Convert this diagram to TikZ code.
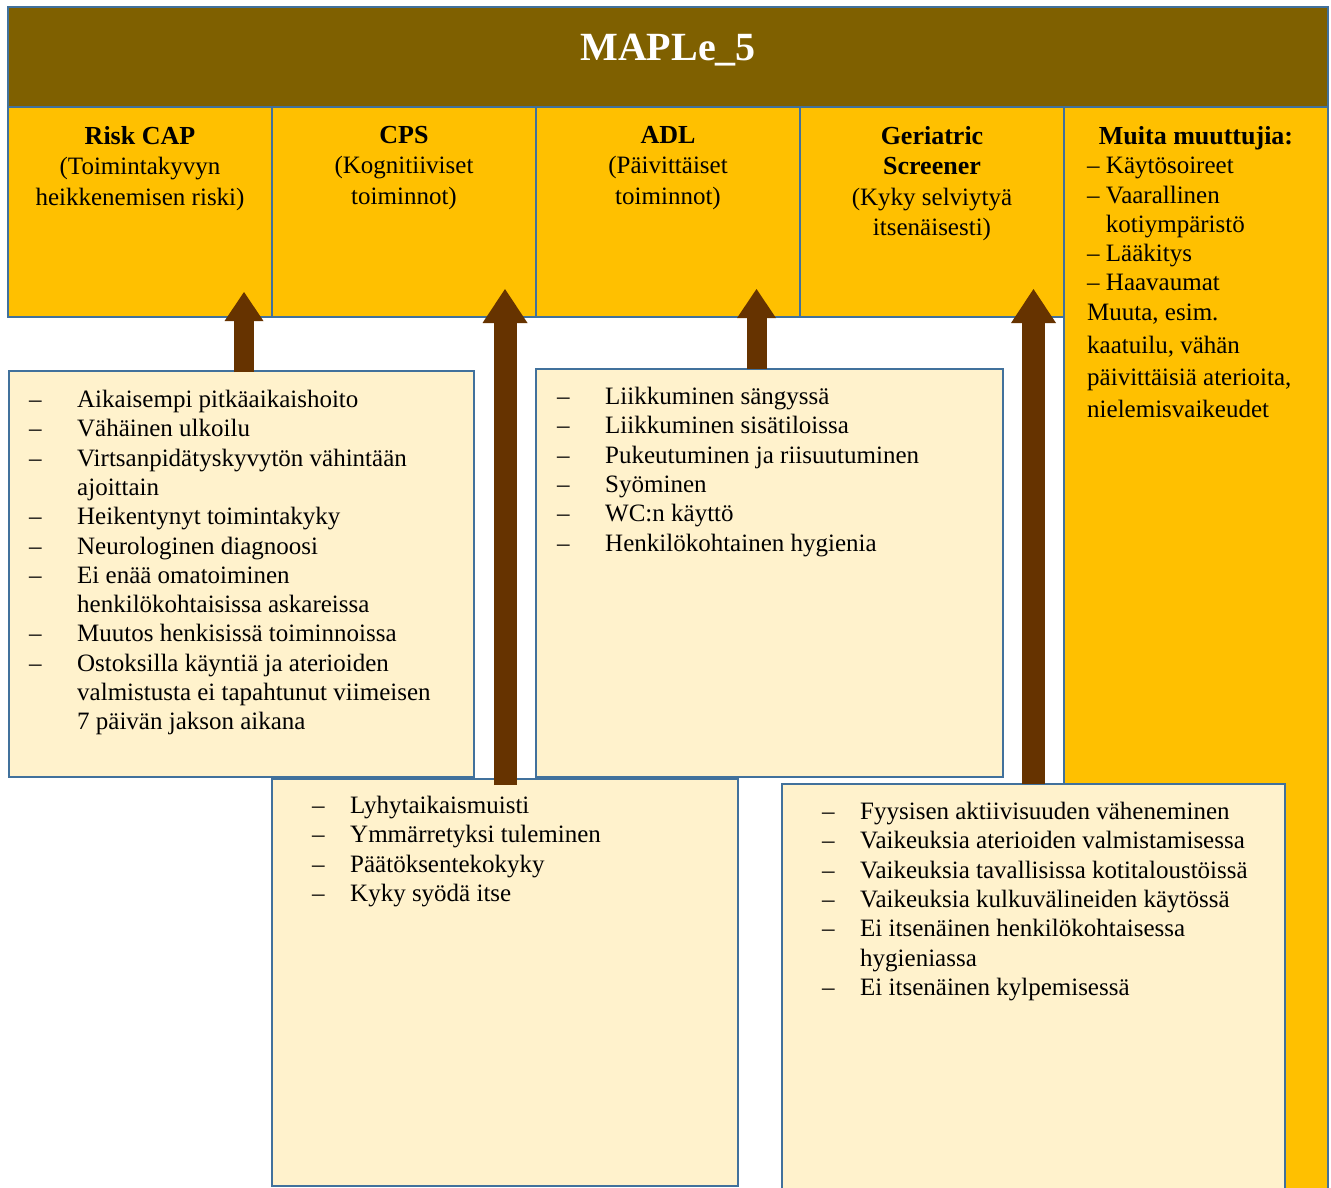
\documentclass[tikz,border=0pt]{standalone}
\usepackage{fontspec}
\setmainfont{Liberation Serif}
\usetikzlibrary{arrows.meta,positioning,calc}

\definecolor{hdrbrown}{HTML}{7F6000}
\definecolor{capyellow}{HTML}{FFC000}
\definecolor{listcream}{HTML}{FFF2CC}
\definecolor{edgeblue}{HTML}{41719C}
\definecolor{arrowbrown}{HTML}{663300}

\newlength{\dashw}
\newcommand{\ditem}{\makebox[\dashw][l]{–}}
\newcommand{\dcont}{\hspace*{\dashw}}
\newcommand{\capheading}[1]{{\fontsize{26}{30.5}\selectfont\bfseries #1}}

\begin{document}
\begin{tikzpicture}[x=1pt,y=-1pt,
    capbox/.style={draw=edgeblue,line width=2.5pt,fill=capyellow,inner sep=0pt,outer sep=0pt,
      minimum width=264pt,minimum height=210pt},
    listbox/.style={draw=edgeblue,line width=2.5pt,fill=listcream,inner sep=0pt,outer sep=0pt,anchor=north west},
    captext/.style={align=center,inner sep=0pt,font=\fontsize{25}{30.5}\selectfont},
    listtext/.style={align=left,inner sep=0pt,font=\fontsize{25}{29.3}\selectfont,
      execute at begin node={\setlength{\dashw}{#1}}},
    uparrow/.style={draw=arrowbrown,line width=20pt,-{Triangle[width=39pt,length=29pt,line width=0pt]}},
    tallarrow/.style={draw=arrowbrown,line width=23pt,-{Triangle[width=45pt,length=34pt,line width=0pt]}},
  ]
  \useasboundingbox (0,0) rectangle (1331,1187);

  % right column runs down the whole page
  \node[capbox,anchor=north west,minimum height=1090pt] (muita) at (1064,107) {};

  % header
  \node[draw=edgeblue,line width=2.5pt,fill=hdrbrown,inner sep=0pt,outer sep=0pt,anchor=north west,
    minimum width=1320pt,minimum height=100pt] (maple) at (8,7) {};
  \node[anchor=base,text=white,font=\fontsize{40}{48}\selectfont\bfseries] (title)
    at ($(maple.north)+(0,53)$) {MAPLe\_5};

  % the four scale columns
  \node[capbox,anchor=north west] (risk) at (8,107) {};
  \node[capbox,right=0pt of risk] (cps) {};
  \node[capbox,right=0pt of cps] (adl) {};
  \node[capbox,right=0pt of adl] (ger) {};

  \node[captext,below=19pt of risk.north] (risktxt)
    {\capheading{Risk CAP}\\(Toimintakyvyn\\heikkenemisen riski)};
  \node[captext,below=19pt of cps.north] (cpstxt)
    {\capheading{CPS}\\(Kognitiiviset\\toiminnot)};
  \node[captext,below=19pt of adl.north] (adltxt)
    {\capheading{ADL}\\(Päivittäiset\\toiminnot)};
  \node[captext,below=19pt of ger.north] (gertxt)
    {\capheading{Geriatric}\\\capheading{Screener}\\(Kyky selviytyä\\itsenäisesti)};

  \node[inner sep=0pt,below=19pt of muita.north] (muitahead) {\capheading{Muita muuttujia:}};
  \node[listtext=0pt,anchor=north west,below right=50pt and 23pt of muita.north west] (muitalist)
    {– Käytösoireet\\
     – Vaarallinen\\
     \hphantom{– }kotiympäristö\\
     – Lääkitys\\
     – Haavaumat\\
     Muuta, esim.\\[3.5pt]
     kaatuilu, vähän\\[3pt]
     päivittäisiä aterioita,\\[3pt]
     nielemisvaikeudet};

  % item lists
  \node[listbox,minimum width=465pt,minimum height=406pt] (riskls) at (9,371) {};
  \node[listbox,minimum width=467pt,minimum height=408pt] (adlls) at (536,369) {};
  \node[listbox,minimum width=466pt,minimum height=407pt] (cpsls) at (272,779) {};
  \node[listbox,minimum width=503pt,minimum height=420pt] (gerls) at (782,784) {};

  \node[listtext=48pt,below right=19pt and 20pt of riskls.north west] (risklist)
    {\ditem Aikaisempi pitkäaikaishoito\\
     \ditem Vähäinen ulkoilu\\
     \ditem Virtsanpidätyskyvytön vähintään\\
     \dcont ajoittain\\
     \ditem Heikentynyt toimintakyky\\
     \ditem Neurologinen diagnoosi\\
     \ditem Ei enää omatoiminen\\
     \dcont henkilökohtaisissa askareissa\\
     \ditem Muutos henkisissä toiminnoissa\\
     \ditem Ostoksilla käyntiä ja aterioiden\\
     \dcont valmistusta ei tapahtunut viimeisen\\
     \dcont 7 päivän jakson aikana};
  \node[listtext=48pt,below right=18pt and 21pt of adlls.north west] (adllist)
    {\ditem Liikkuminen sängyssä\\
     \ditem Liikkuminen sisätiloissa\\
     \ditem Pukeutuminen ja riisuutuminen\\
     \ditem Syöminen\\
     \ditem WC:n käyttö\\
     \ditem Henkilökohtainen hygienia};
  \node[listtext=38pt,below right=17pt and 40pt of cpsls.north west] (cpslist)
    {\ditem Lyhytaikaismuisti\\
     \ditem Ymmärretyksi tuleminen\\
     \ditem Päätöksentekokyky\\
     \ditem Kyky syödä itse};
  \node[listtext=38pt,below right=18pt and 40pt of gerls.north west] (gerlist)
    {\ditem Fyysisen aktiivisuuden väheneminen\\
     \ditem Vaikeuksia aterioiden valmistamisessa\\
     \ditem Vaikeuksia tavallisissa kotitaloustöissä\\
     \ditem Vaikeuksia kulkuvälineiden käytössä\\
     \ditem Ei itsenäinen henkilökohtaisessa\\
     \dcont hygieniassa\\
     \ditem Ei itsenäinen kylpemisessä};

  % arrows from the lists up to the scales
  \draw[uparrow] ($(riskls.north)+(2.5,1)$) -- ($(riskls.north |- risk.south)+(2.5,-25)$);
  \draw[tallarrow] ($(cpsls.north)+(0,6)$) -- ($(cpsls.north |- cps.south)+(0,-28)$);
  \draw[uparrow] ($(adlls.north)+(-13,0)$) -- ($(adlls.north |- adl.south)+(-13,-28)$);
  \draw[tallarrow] (gerls.north) -- ($(gerls.north |- ger.south)+(0,-28)$);
\end{tikzpicture}
\end{document}
